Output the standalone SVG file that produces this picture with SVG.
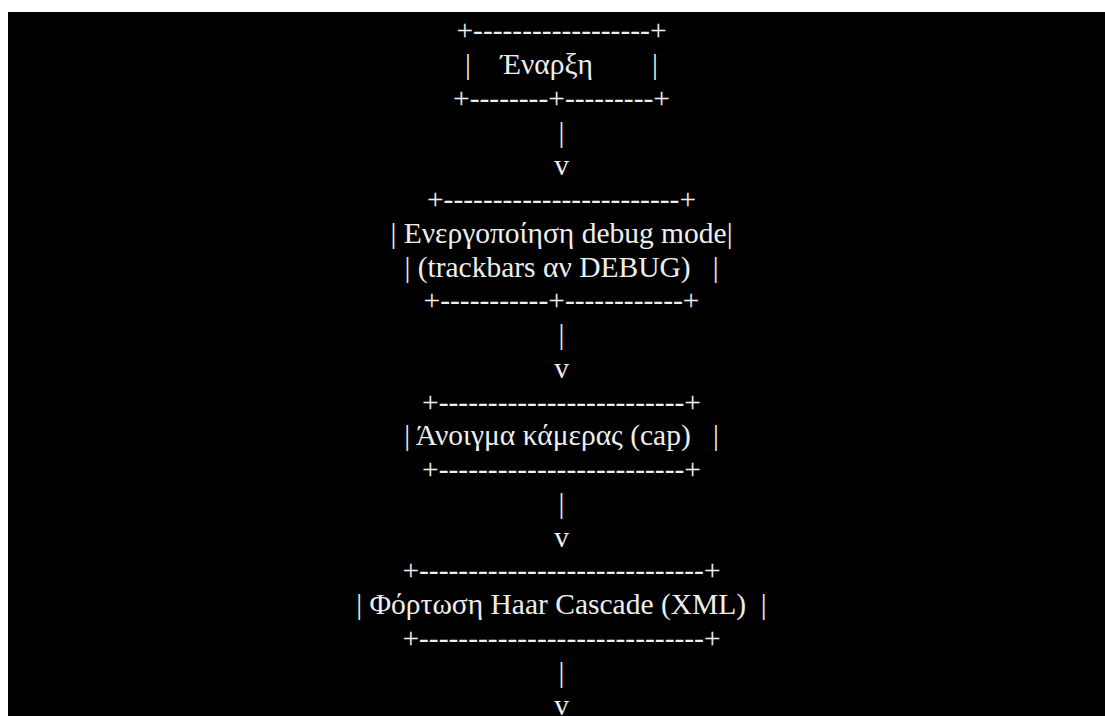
<svg xmlns="http://www.w3.org/2000/svg" width="1105" height="716" viewBox="0 0 1105 716">
<style>
.t { font-family: "Liberation Serif", "Times New Roman", serif; font-size: 29.5px; fill: #eeeeee; white-space: pre; text-anchor: middle; }
</style>
<rect x="0" y="0" width="1105" height="716" fill="#ffffff"/>
<rect x="8" y="12" width="1097" height="704" fill="#000000"/>
<g id="node-start">
<text class="t" x="561.5" y="40.4" xml:space="preserve">+------------------+</text>
<text class="t" x="561.5" y="74.15" xml:space="preserve">|    Έναρξη        |</text>
<text class="t" x="561.5" y="107.9" xml:space="preserve">+--------+---------+</text>
</g>
<g id="node-debug">
<text class="t" x="561.5" y="209.15" xml:space="preserve">+------------------------+</text>
<text class="t" x="561.5" y="242.9" xml:space="preserve">| Ενεργοποίηση debug mode|</text>
<text class="t" x="561.5" y="276.65" xml:space="preserve">| (trackbars αν DEBUG)   |</text>
<text class="t" x="561.5" y="310.4" xml:space="preserve">+-----------+------------+</text>
</g>
<g id="node-camera">
<text class="t" x="561.5" y="411.65" xml:space="preserve">+-------------------------+</text>
<text class="t" x="561.5" y="445.4" xml:space="preserve">| Άνοιγμα κάμερας (cap)   |</text>
<text class="t" x="561.5" y="479.15" xml:space="preserve">+-------------------------+</text>
</g>
<g id="node-haar">
<text class="t" x="561.5" y="580.4" xml:space="preserve">+-----------------------------+</text>
<text class="t" x="561.5" y="614.15" xml:space="preserve">| Φόρτωση Haar Cascade (XML)  |</text>
<text class="t" x="561.5" y="647.9" xml:space="preserve">+-----------------------------+</text>
</g>
<g id="connectors">
<text class="t" x="561.5" y="141.65">|</text>
<text class="t" x="561.5" y="175.4">v</text>
<text class="t" x="561.5" y="344.15">|</text>
<text class="t" x="561.5" y="377.9">v</text>
<text class="t" x="561.5" y="512.9">|</text>
<text class="t" x="561.5" y="546.65">v</text>
<text class="t" x="561.5" y="681.65">|</text>
<text class="t" x="561.5" y="714.5">v</text>
</g>
</svg>
